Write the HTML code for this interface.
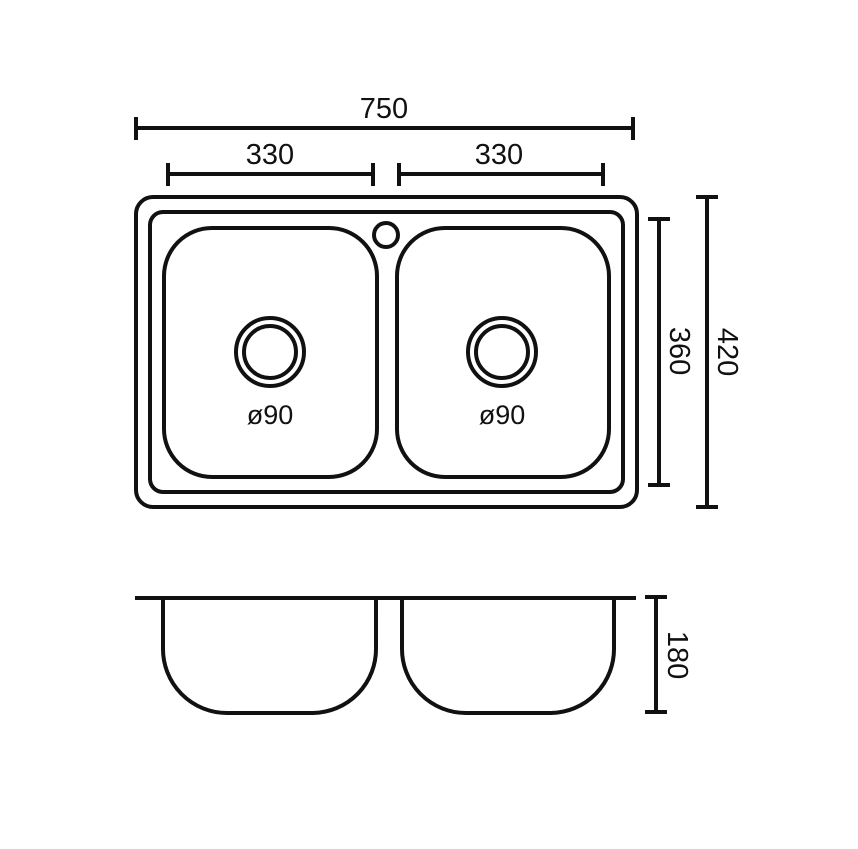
<!DOCTYPE html>
<html><head><meta charset="utf-8"><style>
html,body{margin:0;padding:0;background:#fff;width:858px;height:849px;overflow:hidden}
text{font-family:"Liberation Sans",sans-serif;fill:#111}
</style></head><body>
<svg width="858" height="849" viewBox="0 0 858 849" xmlns="http://www.w3.org/2000/svg">
<g stroke="#111" stroke-width="4" fill="none">
<line x1="136" y1="128" x2="633" y2="128"/>
<line x1="136" y1="117" x2="136" y2="140"/>
<line x1="633" y1="117" x2="633" y2="140"/>
<line x1="168" y1="174" x2="373" y2="174"/>
<line x1="168" y1="163" x2="168" y2="186"/>
<line x1="373" y1="163" x2="373" y2="186"/>
<line x1="399" y1="174" x2="603" y2="174"/>
<line x1="399" y1="163" x2="399" y2="186"/>
<line x1="603" y1="163" x2="603" y2="186"/>
<rect x="136" y="197" width="501" height="310" rx="17"/>
<rect x="150" y="212" width="473" height="280" rx="13"/>
<rect x="164" y="228" width="213" height="249" rx="48"/>
<rect x="397" y="228" width="212" height="249" rx="48"/>
<circle cx="386" cy="235" r="12"/>
<circle cx="270" cy="352" r="34"/>
<circle cx="270" cy="352" r="26"/>
<circle cx="502" cy="352" r="34"/>
<circle cx="502" cy="352" r="26"/>
<line x1="659" y1="219" x2="659" y2="485"/>
<line x1="648" y1="219" x2="670" y2="219"/>
<line x1="648" y1="485" x2="670" y2="485"/>
<line x1="707" y1="197" x2="707" y2="507"/>
<line x1="696" y1="197" x2="718" y2="197"/>
<line x1="696" y1="507" x2="718" y2="507"/>
<line x1="135" y1="598" x2="636" y2="598"/>
<path d="M163 598 V648 A64 64 0 0 0 227 713 H313 A64 64 0 0 0 376 648 V598"/>
<path d="M402 598 V648 A64 64 0 0 0 466 713 H551 A64 64 0 0 0 614 648 V598"/>
<line x1="656" y1="597" x2="656" y2="712"/>
<line x1="645" y1="597" x2="667" y2="597"/>
<line x1="645" y1="712" x2="667" y2="712"/>
</g>
<g font-size="29" text-anchor="middle">
<text x="384" y="118">750</text>
<text x="270" y="164">330</text>
<text x="499" y="164">330</text>
<text x="270" y="424" font-size="27">ø90</text>
<text x="502" y="424" font-size="27">ø90</text>
<text transform="translate(670,351) rotate(90)">360</text>
<text transform="translate(718,352) rotate(90)">420</text>
<text transform="translate(668,655) rotate(90)">180</text>
</g>
</svg>
</body></html>
